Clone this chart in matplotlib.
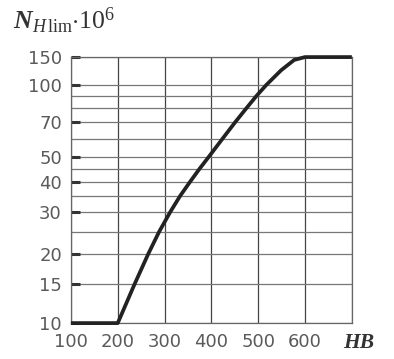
import numpy as np
import matplotlib
matplotlib.use("Agg")
import matplotlib.pyplot as plt

# curve
hb = [100, 200, 236, 265, 288, 312, 333, 354, 375, 394, 424, 451, 475, 496, 517, 549, 577, 600, 700]
n_lim = [10, 10, 15, 20, 25, 30, 35, 40, 45, 50, 60, 70, 80, 90, 100, 124, 144, 150, 150]

x_ticks = [100, 200, 300, 400, 500, 600]
x_grid = [100, 200, 300, 400, 500, 600, 700]
y_ticks = [10, 15, 20, 30, 40, 50, 70, 100, 150]
y_minor = [25, 35, 45, 60, 80, 90]

# the printed scale is not a clean log one: grid value -> relative height on the sheet
scale_vals = [10, 15, 20, 25, 30, 35, 40, 45, 50, 60, 70, 80, 90, 100, 150]
scale_pos = [0, 39, 69, 91, 111, 127, 141, 154.5, 166, 184.5, 201, 215, 227, 238, 266]

plt.rcParams['mathtext.fontset'] = 'custom'
plt.rcParams['mathtext.rm'] = 'Liberation Serif'
plt.rcParams['mathtext.it'] = 'Liberation Serif:italic'
plt.rcParams['mathtext.bf'] = 'Liberation Serif:italic:bold'

lv = np.log10(scale_vals)
sp = np.array(scale_pos, dtype=float)


def fwd(y):
    ly = np.log10(np.clip(np.asarray(y, dtype=float), 1e-6, None))
    return np.interp(ly, lv, sp) + \
        np.where(ly < lv[0], (ly - lv[0]) * 230, 0) + \
        np.where(ly > lv[-1], (ly - lv[-1]) * 160, 0)


def inv(f):
    f = np.asarray(f, dtype=float)
    ly = np.interp(f, sp, lv) + np.where(f < sp[0], (f - sp[0]) / 230, 0) + \
        np.where(f > sp[-1], (f - sp[-1]) / 160, 0)
    return 10 ** ly


fig = plt.figure(figsize=(3.94, 3.59), dpi=100)
ax = fig.add_axes([0.180, 0.100, 0.713, 0.741])
ax.set_yscale('function', functions=(fwd, inv))

ax.plot(hb, n_lim, color='#222222', lw=2.7, solid_capstyle='butt', zorder=5, clip_on=False)

ax.set_xlim(100, 700)
ax.set_ylim(10, 150)
ax.set_xticks(x_grid)
ax.set_xticklabels([str(v) for v in x_ticks] + [''])
ax.set_yticks(y_ticks)
ax.set_yticklabels([str(v) for v in y_ticks])
ax.set_yticks(y_minor, minor=True)
ax.yaxis.set_minor_formatter(plt.NullFormatter())

ax.grid(True, axis='x', color='#444444', lw=0.9)
ax.grid(True, axis='y', which='both', color='#777777', lw=0.9)
ax.set_axisbelow(True)

ax.tick_params(axis='x', length=0, pad=7, labelsize=13, labelcolor='#5a5a5a')
ax.tick_params(axis='y', which='major', direction='in', length=6.5, width=2.2,
               color='#333333', pad=6.5, labelsize=13, labelcolor='#5a5a5a')
ax.tick_params(axis='y', which='minor', length=0)

for s in ax.spines.values():
    s.set_color('#666666')
    s.set_linewidth(0.9)

fig.text(13 / 394, 1 - 29 / 359, r'$\mathbf{N}_{H\,\mathrm{lim}}\mathrm{\cdot 10}^{6}$',
         fontsize=18.5, color='#333333', va='baseline', ha='left')
fig.text(343 / 394, 1 - 348 / 359, 'HB', family='Liberation Serif', style='italic',
         weight='bold', fontsize=15.5, color='#333333', va='baseline', ha='left')

fig.savefig('out.png', dpi=100)
